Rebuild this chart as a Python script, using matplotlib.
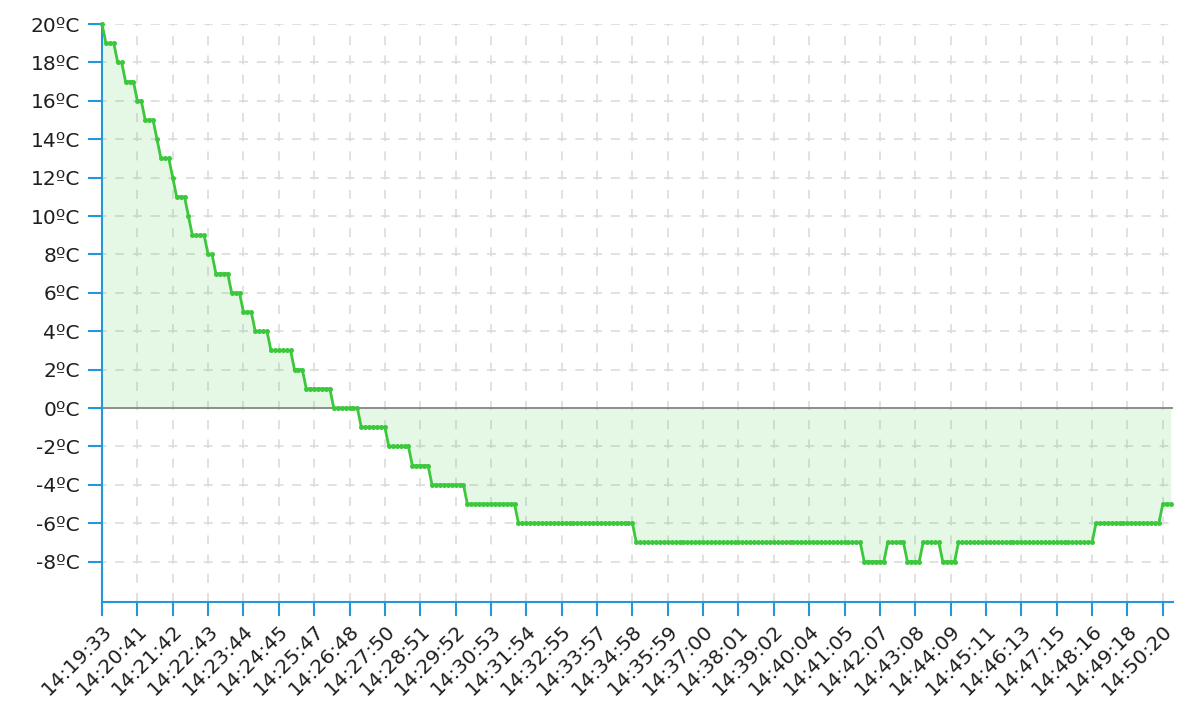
import numpy as np
import matplotlib
matplotlib.use("Agg")
import matplotlib.pyplot as plt

# Temperature readings (ºC), stored as run-length steps
step_levels = [20, 19, 18, 17, 16, 15, 14, 13, 12, 11, 10, 9, 8, 7, 6, 5, 4, 3, 2, 1,
               0, -1, -2, -3, -4, -5, -6, -7, -8, -7, -8, -7, -8, -7, -6, -5]
step_counts = [1, 3, 2, 3, 2, 3, 1, 3, 1, 3, 1, 4, 2, 4, 3, 3, 4, 6, 3, 7,
               7, 7, 6, 5, 9, 13, 30, 58, 6, 5, 4, 5, 4, 35, 17, 3]

time_labels = ["14:19:33", "14:20:41", "14:21:42", "14:22:43", "14:23:44", "14:24:45",
               "14:25:47", "14:26:48", "14:27:50", "14:28:51", "14:29:52", "14:30:53",
               "14:31:54", "14:32:55", "14:33:57", "14:34:58", "14:35:59", "14:37:00",
               "14:38:01", "14:39:02", "14:40:04", "14:41:05", "14:42:07", "14:43:08",
               "14:44:09", "14:45:11", "14:46:13", "14:47:15", "14:48:16", "14:49:18",
               "14:50:20"]
samples_per_tick = 9
y_ticks = list(range(-8, 21, 2))
y_labels = [f"{v}ºC" for v in y_ticks]

temps = np.repeat(step_levels, step_counts)
x = np.arange(len(temps))
tick_pos = np.arange(len(time_labels)) * samples_per_tick

plt.rcParams["lines.scale_dashes"] = False
W, H = 1186, 724
fig = plt.figure(figsize=(W / 100, H / 100), dpi=100)
L, R, T, B = 102, 1173, 24, 602
ax = fig.add_axes([L / W, 1 - B / H, (R - L) / W, (B - T) / H])

blue = "#2596d8"
green = "#3cc83c"
grid_c = "#dcdcdc"

ax.set_xlim(0, len(temps) - 1 + 0.6)
ax.set_ylim(-10.1, 20)

# grid
px = 0.72  # points per pixel
for v in y_ticks:
    if v == 0:
        continue
    ax.axhline(v, color=grid_c, lw=1.2, zorder=0,
               linestyle=(4.5 * px, (9 * px, 8.7 * px)))
for t in tick_pos[1:]:
    ax.axvline(t, color=grid_c, lw=1.2, zorder=0,
               linestyle=(0, (9 * px, 10.2 * px)))

ax.fill_between(x, temps, 0, color=green, alpha=0.13, lw=0, zorder=1)
ax.axhline(0, color="#858585", lw=1.3, zorder=2)
ax.plot(x, temps, color=green, lw=2.0, marker="o", markersize=3.6,
        markeredgewidth=0, zorder=3, clip_on=False)

for s in ["top", "right"]:
    ax.spines[s].set_visible(False)
for s in ["left", "bottom"]:
    ax.spines[s].set_color(blue)
    ax.spines[s].set_linewidth(1.5)

ax.set_yticks(y_ticks)
ax.set_yticklabels(y_labels)
ax.set_xticks(tick_pos)
ax.set_xticklabels(time_labels, rotation=45, ha="right", rotation_mode="anchor")
ax.tick_params(axis="both", color=blue, width=1.5, length=10, labelsize=14.5,
               labelcolor="#1e1e1e", pad=6)
ax.tick_params(axis="x", pad=4)

fig.savefig("out.png", dpi=100)
